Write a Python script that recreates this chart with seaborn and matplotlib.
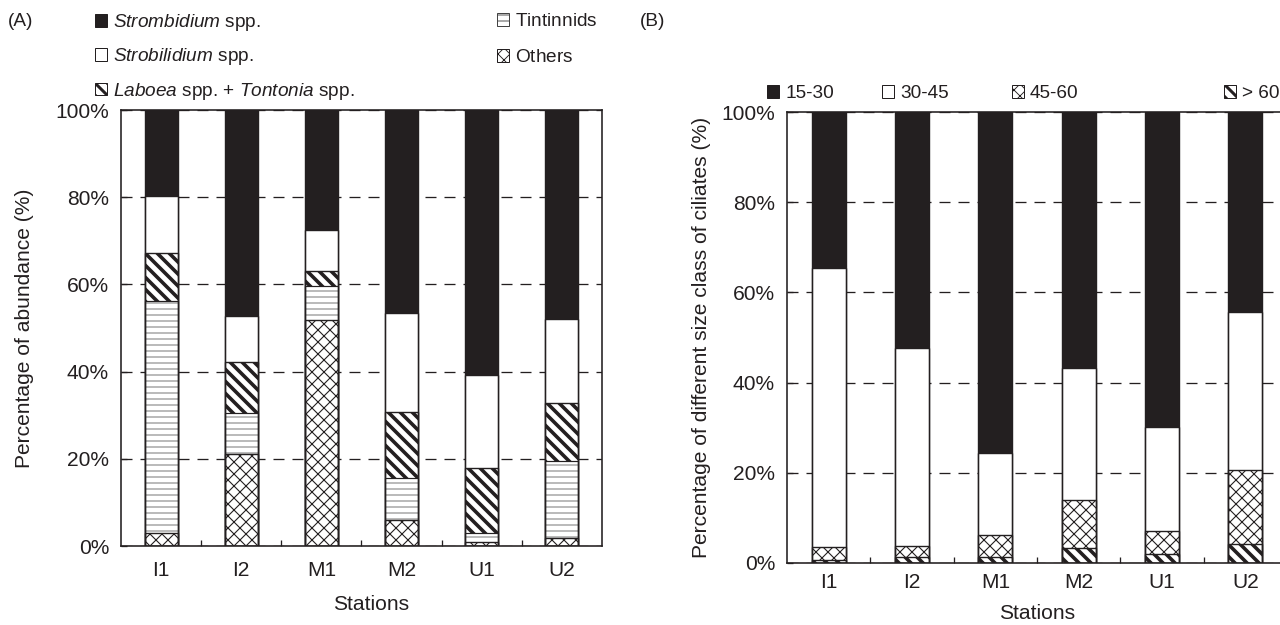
import matplotlib
matplotlib.use("Agg")
import matplotlib.pyplot as plt
from matplotlib.patches import Patch
import seaborn as sns
import numpy as np

# ---------------- data ----------------
stations = ["I1", "I2", "M1", "M2", "U1", "U2"]

# Panel A: percentage of abundance (bottom -> top)
others_a = [3.0, 21.0, 51.8, 6.0, 0.9, 1.8]
tintinnids_a = [53.1, 9.6, 7.8, 9.6, 2.0, 17.7]
laboea_a = [11.1, 11.7, 3.5, 15.2, 14.9, 13.2]
strobilidium_a = [13.0, 10.4, 9.4, 22.7, 21.4, 19.4]
strombidium_a = [19.8, 47.3, 27.5, 46.5, 60.8, 47.9]

# Panel B: size classes (bottom -> top)
gt60_b = [0.7, 1.4, 1.3, 3.3, 1.9, 4.2]
s45_60_b = [2.9, 2.4, 4.8, 10.6, 5.2, 16.5]
s30_45_b = [61.7, 43.8, 18.2, 29.4, 23.0, 35.0]
s15_30_b = [34.7, 52.4, 75.7, 56.7, 69.9, 44.3]

yticks = [0, 20, 40, 60, 80, 100]
ytick_labels = ["0%", "20%", "40%", "60%", "80%", "100%"]

# ---------------- style ----------------
DARK = "#231f20"
sns.set_theme(style="white")
plt.rcParams["font.family"] = ["Liberation Sans", "DejaVu Sans"]
plt.rcParams["mathtext.fontset"] = "custom"
plt.rcParams["mathtext.it"] = "Liberation Sans:italic"
plt.rcParams["mathtext.rm"] = "Liberation Sans"
plt.rcParams["lines.scale_dashes"] = False
plt.rcParams["text.color"] = DARK
plt.rcParams["axes.labelcolor"] = DARK
plt.rcParams["xtick.color"] = DARK
plt.rcParams["ytick.color"] = DARK

FS = 21
LFS = 19
DPI = 72
fig = plt.figure(figsize=(1280 / DPI, 625 / DPI), dpi=DPI)
fig.patch.set_facecolor("white")

W, H = 1280.0, 625.0
axA = fig.add_axes([121 / W, 1 - 546 / H, 481 / W, 436 / H])
axB = fig.add_axes([787 / W, 1 - 563 / H, 500 / W, 451 / H])

BAR_W = 0.41

STY = {
    "black": dict(face=DARK, hatch=None, hc=DARK, hlw=1.0),
    "white": dict(face="white", hatch=None, hc=DARK, hlw=1.0),
    "stripe": dict(face="white", hatch="\\\\", hc=DARK, hlw=3.6),
    "horiz": dict(face="white", hatch="--", hc="#6a6a6a", hlw=0.9),
    "cross": dict(face="white", hatch="xx", hc=DARK, hlw=1.1),
}


def style_patch(p, st, edge_lw=1.2):
    p.set_facecolor(st["face"])
    p.set_hatch(st["hatch"])
    p.set_edgecolor(st["hc"])
    if hasattr(p, "set_hatch_linewidth"):
        p.set_hatch_linewidth(st["hlw"])
    p.set_linewidth(edge_lw if st["hc"] == DARK else 0)


def layer(ax, tops, st):
    n0 = len(ax.patches)
    sns.barplot(x=stations, y=tops, color="white", width=BAR_W, ax=ax,
                errorbar=None, saturation=1)
    for p in ax.patches[n0:]:
        style_patch(p, st)


def outline_layer(ax, tops):
    n0 = len(ax.patches)
    sns.barplot(x=stations, y=tops, color="white", width=BAR_W, ax=ax,
                errorbar=None, saturation=1)
    for p in ax.patches[n0:]:
        p.set_facecolor("none")
        p.set_edgecolor(DARK)
        p.set_linewidth(1.2)


def stacked(ax, layers):
    # layers: list of (values, style) bottom -> top
    cums = np.cumsum([np.array(v, float) for v, _ in layers], axis=0)
    for i in range(len(layers) - 1, -1, -1):
        layer(ax, cums[i], STY[layers[i][1]])
    for i in range(len(layers) - 1, -1, -1):
        outline_layer(ax, cums[i])


stacked(axA, [(others_a, "cross"), (tintinnids_a, "horiz"), (laboea_a, "stripe"),
              (strobilidium_a, "white"), (strombidium_a, "black")])
stacked(axB, [(gt60_b, "stripe"), (s45_60_b, "cross"), (s30_45_b, "white"),
              (s15_30_b, "black")])


def setup_axes(ax, ylabel, xpad, ylab_x, xlab_xy):
    ax.set_xlim(-0.5, 5.5)
    ax.set_ylim(0, 100)
    ax.set_yticks(yticks)
    ax.set_yticklabels(ytick_labels, fontsize=FS)
    ax.set_xticks(range(len(stations)))
    ax.set_xticklabels(stations, fontsize=FS)
    ax.set_xticks(np.arange(0.5, 5.5, 1.0), minor=True)
    ax.tick_params(axis="x", which="major", length=0, pad=xpad)
    ax.tick_params(axis="x", which="minor", direction="in", length=6, width=1.3,
                   bottom=True, color=DARK)
    ax.tick_params(axis="y", which="major", direction="in", length=6, width=1.3,
                   pad=12, left=True, color=DARK)
    ax.yaxis.grid(True, linestyle=(0, (11, 8)), color=DARK, linewidth=1.3)
    ax.xaxis.grid(False)
    ax.set_axisbelow(True)
    for s in ax.spines.values():
        s.set_visible(True)
        s.set_color(DARK)
        s.set_linewidth(1.6)
    ax.set_ylabel(ylabel, fontsize=FS)
    ax.set_xlabel("Stations", fontsize=FS)
    ax.yaxis.set_label_coords(ylab_x, 0.5)
    ax.xaxis.set_label_coords(*xlab_xy)
    ax.set_facecolor("white")


setup_axes(axA, "Percentage of abundance (%)", 15, -0.18, (0.52, -0.112))
setup_axes(axB, "Percentage of different size class of ciliates (%)", 10,
           -0.152, (0.5, -0.092))


def add_legend(items, x, ytop, hlw, spacing=0.6):
    with plt.rc_context({"hatch.linewidth": hlw}):
        hs = []
        for _, s in items:
            st = STY[s]
            ec = DARK
            if st["hatch"] and s == "horiz":
                ec = "#444444"
            p = Patch(facecolor=st["face"], edgecolor=ec, hatch=st["hatch"],
                      linewidth=1.0)
            hs.append(p)
        labs = [l for l, _ in items]
        leg = fig.legend(hs, labs, loc="upper left",
                         bbox_to_anchor=(x / W, 1 - ytop / H),
                         frameon=False, borderpad=0, borderaxespad=0, fontsize=LFS,
                         handlelength=0.63, handleheight=0.63, handletextpad=0.32,
                         labelspacing=spacing)
        fig.canvas.draw()
    return leg


add_legend([(r"$\mathit{Strombidium}$ spp.", "black"),
            (r"$\mathit{Strobilidium}$ spp.", "white"),
            (r"$\mathit{Laboea}$ spp. + $\mathit{Tontonia}$ spp.", "stripe")],
           95, 12, 3.0, 0.7)
add_legend([(r"$\mathrm{Tintinnids}$", "horiz"), (r"$\mathrm{Others}$", "cross")],
           497, 13, 0.9, 1.0)

for lab, st, x, hl in [("15-30", "black", 767, 1.0), ("30-45", "white", 882, 1.0),
                       ("45-60", "cross", 1012, 0.9), ("> 60", "stripe", 1224, 3.0)]:
    add_legend([(lab, st)], x, 85, hl)

fig.text(8 / W, 1 - 21 / H, "(A)", fontsize=LFS, va="center", ha="left")
fig.text(640 / W, 1 - 21 / H, "(B)", fontsize=LFS, va="center", ha="left")

fig.savefig("out.png", dpi=DPI, facecolor="white")
